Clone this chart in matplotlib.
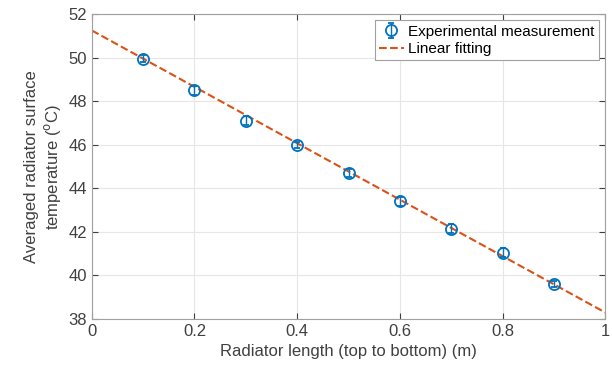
import numpy as np
import matplotlib.pyplot as plt

plt.rcParams['font.family'] = ['Liberation Sans', 'DejaVu Sans']

# measured points
length = [0.1, 0.2, 0.3, 0.4, 0.5, 0.6, 0.7, 0.8, 0.9]
temp = [49.95, 48.5, 47.1, 46.0, 44.7, 43.4, 42.15, 41.05, 39.6]
temp_err = [0.15, 0.2, 0.2, 0.15, 0.2, 0.2, 0.2, 0.2, 0.15]

# linear fit line ends
fit_x = [0.0, 1.0]
fit_y = [51.25, 38.3]

blue = '#0072BD'
orange = '#D95319'

fig = plt.figure(figsize=(6.12, 3.71), dpi=100)
ax = fig.add_axes([0.150, 0.140, 0.839, 0.822])

eb = ax.errorbar(length, temp, yerr=temp_err, fmt='o', color=blue, mfc='none',
                 ms=8, mew=1.3, elinewidth=1, capsize=2.5,
                 label='Experimental measurement', zorder=3)
ln, = ax.plot(fit_x, fit_y, '--', color=orange, lw=1.5, label='Linear fitting', zorder=2)

ax.set_xlim(0, 1)
ax.set_ylim(38, 52)
ax.set_xticks([0, 0.2, 0.4, 0.6, 0.8, 1])
ax.set_xticklabels(['0', '0.2', '0.4', '0.6', '0.8', '1'])
ax.set_yticks(np.arange(38, 53, 2))
ax.grid(True, color='#e6e6e6', lw=0.8)
ax.set_axisbelow(True)
ax.tick_params(direction='in', labelsize=12, colors='#404040', top=True, right=True,
               length=4)
for s in ax.spines.values():
    s.set_color('#a0a0a0')

ax.set_xlabel('Radiator length (top to bottom) (m)', fontsize=12, color='#404040')
ax.set_ylabel('Averaged radiator surface\ntemperature ($^{\\mathrm{o}}$C)', fontsize=12,
              color='#404040')

leg = ax.legend([eb, ln], ['Experimental measurement', 'Linear fitting'],
                loc='upper right', fontsize=11, fancybox=False, framealpha=1,
                edgecolor='#a0a0a0', borderpad=0.3, handlelength=1.6,
                handletextpad=0.3, labelspacing=0.2, borderaxespad=0.4)
leg.get_frame().set_linewidth(0.8)

fig.savefig('out.png', dpi=100)
